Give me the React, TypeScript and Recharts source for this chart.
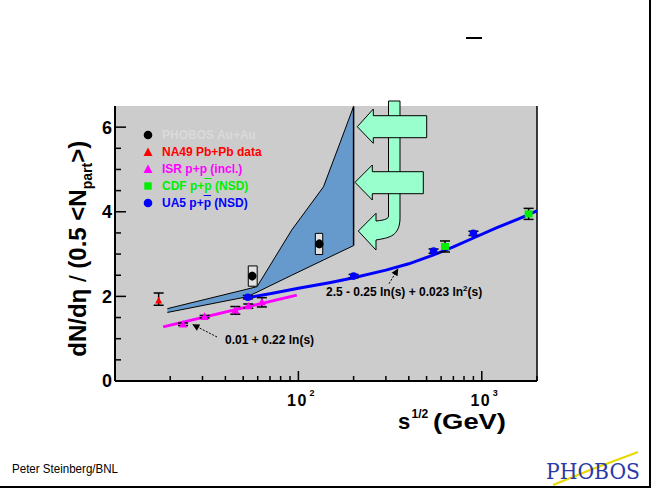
import React from "react";
import {
  Area,
  CartesianGrid,
  ComposedChart,
  ErrorBar,
  Line,
  ReferenceArea,
  ReferenceLine,
  Scatter,
  XAxis,
  YAxis,
} from "recharts";

const FONT = "'Liberation Sans', Arial, Helvetica, sans-serif";

// axis ticks
const xTicks = [20, 30, 40, 50, 60, 70, 80, 90, 100, 200, 300, 400, 500, 600, 700, 800, 900, 1000, 2000];
const xLabelTicks = [100, 1000];
const yTicks = [0, 0.5, 1, 1.5, 2, 2.5, 3, 3.5, 4, 4.5, 5, 5.5, 6];
const yLabelTicks = [0, 2, 4, 6];

// PHOBOS prediction band (low / high edge)
const bandEnergy = [19.3, 52.4, 59.5, 92, 137, 169, 200];
const bandLow = [1.62, 1.99, 2.1, 2.5, 2.86, 3.05, 3.2];
const bandHigh = [1.71, 2.17, 2.23, 3.57, 4.59, 5.64, 6.49];
const band = bandEnergy.map((x, i) => ({ x, band: [bandLow[i], bandHigh[i]] }));
const bandEdge = [
  { x: 200, y: 3.2 },
  { x: 200, y: 6.49 },
];

// fits
const isrFit = [
  { x: 18.3, y: 1.28 },
  { x: 98, y: 2.03 },
];
const ua5FitEnergy = [53, 70, 100, 150, 200, 300, 400, 546, 700, 900, 1200, 1600, 2000];
const ua5FitValue = [1.97, 2.06, 2.19, 2.33, 2.44, 2.62, 2.77, 2.98, 3.17, 3.38, 3.62, 3.84, 4.02];
const ua5Fit = ua5FitEnergy.map((x, i) => ({ x, y: ua5FitValue[i] }));

// data points
const phobos = [
  { x: 56, y: 2.48, err: 0.1 },
  { x: 130, y: 3.24, err: 0.1 },
];
const phobosSyst = [
  { x1: 53.3, x2: 59.6, y1: 2.24, y2: 2.72 },
  { x1: 123.7, x2: 135.7, y1: 2.99, y2: 3.49 },
];
const na49 = [{ x: 17.3, y: 1.9, err: [0.11, 0.18] }];
const isr = [
  { x: 23.5, y: 1.34, err: 0.03 },
  { x: 30.8, y: 1.52, err: 0.03 },
  { x: 45.3, y: 1.67, err: 0.09 },
  { x: 53.3, y: 1.77, err: 0.05 },
  { x: 63.2, y: 1.86, err: 0.11 },
];
const cdf = [
  { x: 630, y: 3.18, err: 0.13 },
  { x: 1800, y: 3.95, err: 0.13 },
];
const ua5 = [
  { x: 53, y: 1.98, err: 0.04 },
  { x: 200, y: 2.48, err: 0.04 },
  { x: 546, y: 3.07, err: 0.05 },
  { x: 900, y: 3.49, err: 0.05 },
];

// annotation pointers
const isrArrow = [
  { x: 36, y: 1.04 },
  { x: 26.4, y: 1.34 },
];
const ua5Arrow = [
  { x: 312, y: 2.3 },
  { x: 350, y: 2.66 },
];

const legendLabels = ["PHOBOS Au+Au", "NA49 Pb+Pb data", "ISR p+p (incl.)", "CDF p+p (NSD)", "UA5 p+p (NSD)"];
const legendColors = ["#dadada", "#ff0000", "#ff00ff", "#00ee00", "#0000ff"];
const legendMarkerColors = ["#000000", "#ff0000", "#ff00ff", "#00ee00", "#0000ff"];
const legendShapes = ["circle", "triangle", "triangle", "square", "circle"];

const triangle = (color: string, w = 8) => (p: any) => (
  <polygon
    points={`${p.cx},${p.cy - w * 0.55} ${p.cx - w / 2},${p.cy + w * 0.4} ${p.cx + w / 2},${p.cy + w * 0.4}`}
    fill={color}
  />
);
const circle = (color: string, r = 4) => (p: any) => <circle cx={p.cx} cy={p.cy} r={r} fill={color} />;
const square = (color: string) => (p: any) => (
  <rect x={p.cx - 4} y={p.cy - 3.5} width={8} height={7} fill={color} />
);

const arrowHead = (angle: number) => (p: any) =>
  p.index === 1 ? (
    <polygon
      key={p.index}
      transform={`translate(${p.cx},${p.cy}) rotate(${angle})`}
      points="0,0 -7,-3.5 -7,3.5"
      fill="#000"
    />
  ) : (
    <g key={p.index} />
  );

function XTick(props: any) {
  const { x, payload } = props;
  const y = 381;
  const v = payload.value;
  const major = xLabelTicks.includes(v);
  return (
    <g>
      <line x1={x} x2={x} y1={y} y2={y - (major ? 10 : 5)} stroke="#000" strokeWidth={1.5} />
      {major && (
        <g fontFamily={FONT} fontWeight="bold" fill="#000">
          <text x={x - 1} y={y + 25} textAnchor="middle" fontSize={16} letterSpacing={1.5}>
            10
          </text>
          <text x={x + 11} y={y + 15} fontSize={9}>
            {Math.round(Math.log10(v))}
          </text>
        </g>
      )}
    </g>
  );
}

function YTick(props: any) {
  const { y, payload } = props;
  const x = 115;
  const v = payload.value;
  const major = yLabelTicks.includes(v);
  return (
    <g>
      <line x1={x} x2={x + (major ? 11 : 6)} y1={y} y2={y} stroke="#000" strokeWidth={1.5} />
      {major && (
        <text
          x={x - 3}
          y={y}
          dy="0.36em"
          textAnchor="end"
          fontFamily={FONT}
          fontWeight="bold"
          fontSize={18}
          fill="#000"
        >
          {v}
        </text>
      )}
    </g>
  );
}

function LegendBox() {
  return (
    <div style={{ position: "absolute", left: 140, top: 127, fontFamily: FONT, fontWeight: "bold", fontSize: 12 }}>
      {legendLabels.map((label, i) => {
        const bar = label.includes("p+p (NSD)");
        const shape = legendShapes[i];
        const c = legendMarkerColors[i];
        return (
          <div key={label} style={{ position: "relative", height: 17, lineHeight: "17px", whiteSpace: "nowrap" }}>
            <svg width={12} height={12} style={{ position: "absolute", left: 2, top: 2 }}>
              {shape === "circle" && <circle cx={6} cy={6} r={4.3} fill={c} />}
              {shape === "triangle" && <polygon points="6,1.5 1.5,10 10.5,10" fill={c} />}
              {shape === "square" && <rect x={2.3} y={2.3} width={7.4} height={7.4} fill={c} />}
            </svg>
            <span style={{ position: "absolute", left: 22, color: legendColors[i] }}>
              {bar ? (
                <>
                  {label.split(" ")[0]} p+<span style={{ textDecoration: "overline" }}>p</span> (NSD)
                </>
              ) : (
                label
              )}
            </span>
          </div>
        );
      })}
    </div>
  );
}

function Overlay() {
  return (
    <svg width={651} height={488} style={{ position: "absolute", left: 0, top: 0, pointerEvents: "none" }}>
      {/* big mint arrows */}
      <g fill="#99ffcc" stroke="#000" strokeWidth={1}>
        <path d="M388.5 101 L400 101 L400 218 C400 227 397 232 393 235 C389 237.5 385 238.5 376 240 L376 250 L358.3 231 L376 213.3 L376 221 C381 220.5 384 220 386 219 C388 218 388.5 217.5 388.5 216 Z" />
        <polygon points="357.3,126.7 373.3,109 373.3,115.7 426.7,115.7 426.7,137.7 373.3,137.7 373.3,143.3" />
        <polygon points="355,182.3 372.3,165 372.3,171.7 423.3,171.7 423.3,193.7 372.3,193.7 372.3,200" />
      </g>
      {/* formula labels */}
      <g fontFamily={FONT} fontWeight="bold" fontSize={12} fill="#000">
        <text x={225} y={344}>0.01 + 0.22 ln(s)</text>
        <text x={326} y={296}>
          2.5 - 0.25 ln(s) + 0.023 ln<tspan dy={-5} fontSize={8}>2</tspan>
          <tspan dy={5}>(s)</tspan>
        </text>
      </g>
      {/* axis titles */}
      <text
        transform="translate(85.5,356.7) rotate(-90)"
        fontFamily={FONT}
        fontWeight="bold"
        fontSize={24}
        fill="#000"
      >
        dN/dη <tspan fontWeight="normal">/</tspan> (0.5 &lt;N
        <tspan fontSize={14} dy={6}>
          part
        </tspan>
        <tspan dy={-6}>&gt;)</tspan>
      </text>
      <g fontFamily={FONT} fontWeight="bold" fill="#000">
        <text x={398} y={429} fontSize={22}>
          s
        </text>
        <text x={411.5} y={418} fontSize={12}>
          1/2
        </text>
        <text x={433} y={429} fontSize={22} textLength={73} lengthAdjust="spacingAndGlyphs">
          (GeV)
        </text>
      </g>
      {/* remnant title bar */}
      <rect x={466} y={37} width={16} height={2} fill="#000" />
      {/* footer */}
      <text x={12} y={473} fontFamily={FONT} fontSize={12} fill="#000" textLength={106} lengthAdjust="spacingAndGlyphs">
        Peter Steinberg/BNL
      </text>
      <polyline points="553,485 590,470 638,452" fill="none" stroke="#e8d800" strokeWidth={2} />
      <text
        x={546}
        y={479}
        fontFamily="'DejaVu Serif', serif"
        fontSize={22}
        fill="#2a3aa8"
        textLength={94}
        lengthAdjust="spacingAndGlyphs"
      >
        PHOBOS
      </text>
      {/* page frame */}
      <rect x={649} y={0} width={2} height={488} fill="#000" />
      <rect x={0} y={486} width={651} height={2} fill="#000" />
    </svg>
  );
}

export default function App() {
  return (
    <div style={{ position: "absolute", left: 0, top: 0, width: 651, height: 488, background: "#fff" }}>
      <ComposedChart width={651} height={488} margin={{ top: 106, right: 114, bottom: 106, left: 114 }}>
        <CartesianGrid horizontal={false} vertical={false} fill="#cccccc" stroke="none" />
        <XAxis
          dataKey="x"
          type="number"
          scale="log"
          domain={[10, 2000]}
          allowDataOverflow
          ticks={xTicks}
          interval={0}
          height={1}
          tickSize={0}
          tickMargin={0}
          tickLine={false}
          tick={<XTick />}
          axisLine={{ stroke: "#000", strokeWidth: 2 }}
        />
        <YAxis
          dataKey="y"
          type="number"
          domain={[0, 6.5]}
          allowDataOverflow
          ticks={yTicks}
          interval={0}
          width={1}
          tickSize={0}
          tickMargin={0}
          tickLine={false}
          tick={<YTick />}
          axisLine={{ stroke: "#000", strokeWidth: 2 }}
        />
        <ReferenceLine x={2000} stroke="#000" strokeWidth={1.5} ifOverflow="visible" />
        <Area
          data={band}
          dataKey="band"
          type="linear"
          fill="#6699cc"
          fillOpacity={1}
          stroke="#000"
          strokeWidth={1}
          isAnimationActive={false}
        />
        <Line data={bandEdge} dataKey="y" stroke="#000" strokeWidth={1.5} dot={false} isAnimationActive={false} />
        {phobosSyst.map((b, i) => (
          <ReferenceArea
            key={i}
            x1={b.x1}
            x2={b.x2}
            y1={b.y1}
            y2={b.y2}
            fill="#e2e2e2"
            fillOpacity={1}
            stroke="#000"
            strokeWidth={1}
          />
        ))}
        <Line data={isrFit} dataKey="y" type="linear" stroke="#ff00ff" strokeWidth={3} dot={false} isAnimationActive={false} />
        <Line data={ua5Fit} dataKey="y" type="linear" stroke="#0000ff" strokeWidth={3} dot={false} isAnimationActive={false} />
        <Line
          data={isrArrow}
          dataKey="y"
          stroke="#000"
          strokeWidth={1}
          strokeDasharray="2 1.5"
          dot={arrowHead(-152)}
          isAnimationActive={false}
        />
        <Line
          data={ua5Arrow}
          dataKey="y"
          stroke="#000"
          strokeWidth={1}
          strokeDasharray="2 1.5"
          dot={arrowHead(-59)}
          isAnimationActive={false}
        />
        <Scatter data={isr} shape={triangle("#ff00ff", 8)} isAnimationActive={false}>
          <ErrorBar dataKey="err" direction="y" width={5} stroke="#000" strokeWidth={1.5} />
        </Scatter>
        <Scatter data={na49} shape={triangle("#ff0000", 7)} isAnimationActive={false}>
          <ErrorBar dataKey="err" direction="y" width={5} stroke="#000" strokeWidth={1.5} />
        </Scatter>
        <Scatter data={ua5} shape={circle("#0000ff", 3.8)} isAnimationActive={false}>
          <ErrorBar dataKey="err" direction="y" width={5} stroke="#000" strokeWidth={1.5} />
        </Scatter>
        <Scatter data={cdf} shape={square("#00ee00")} isAnimationActive={false}>
          <ErrorBar dataKey="err" direction="y" width={5} stroke="#000" strokeWidth={1.5} />
        </Scatter>
        <Scatter data={phobos} shape={circle("#000000", 4.3)} isAnimationActive={false}>
          <ErrorBar dataKey="err" direction="y" width={0} stroke="#000" strokeWidth={2} />
        </Scatter>
      </ComposedChart>
      <LegendBox />
      <Overlay />
    </div>
  );
}
